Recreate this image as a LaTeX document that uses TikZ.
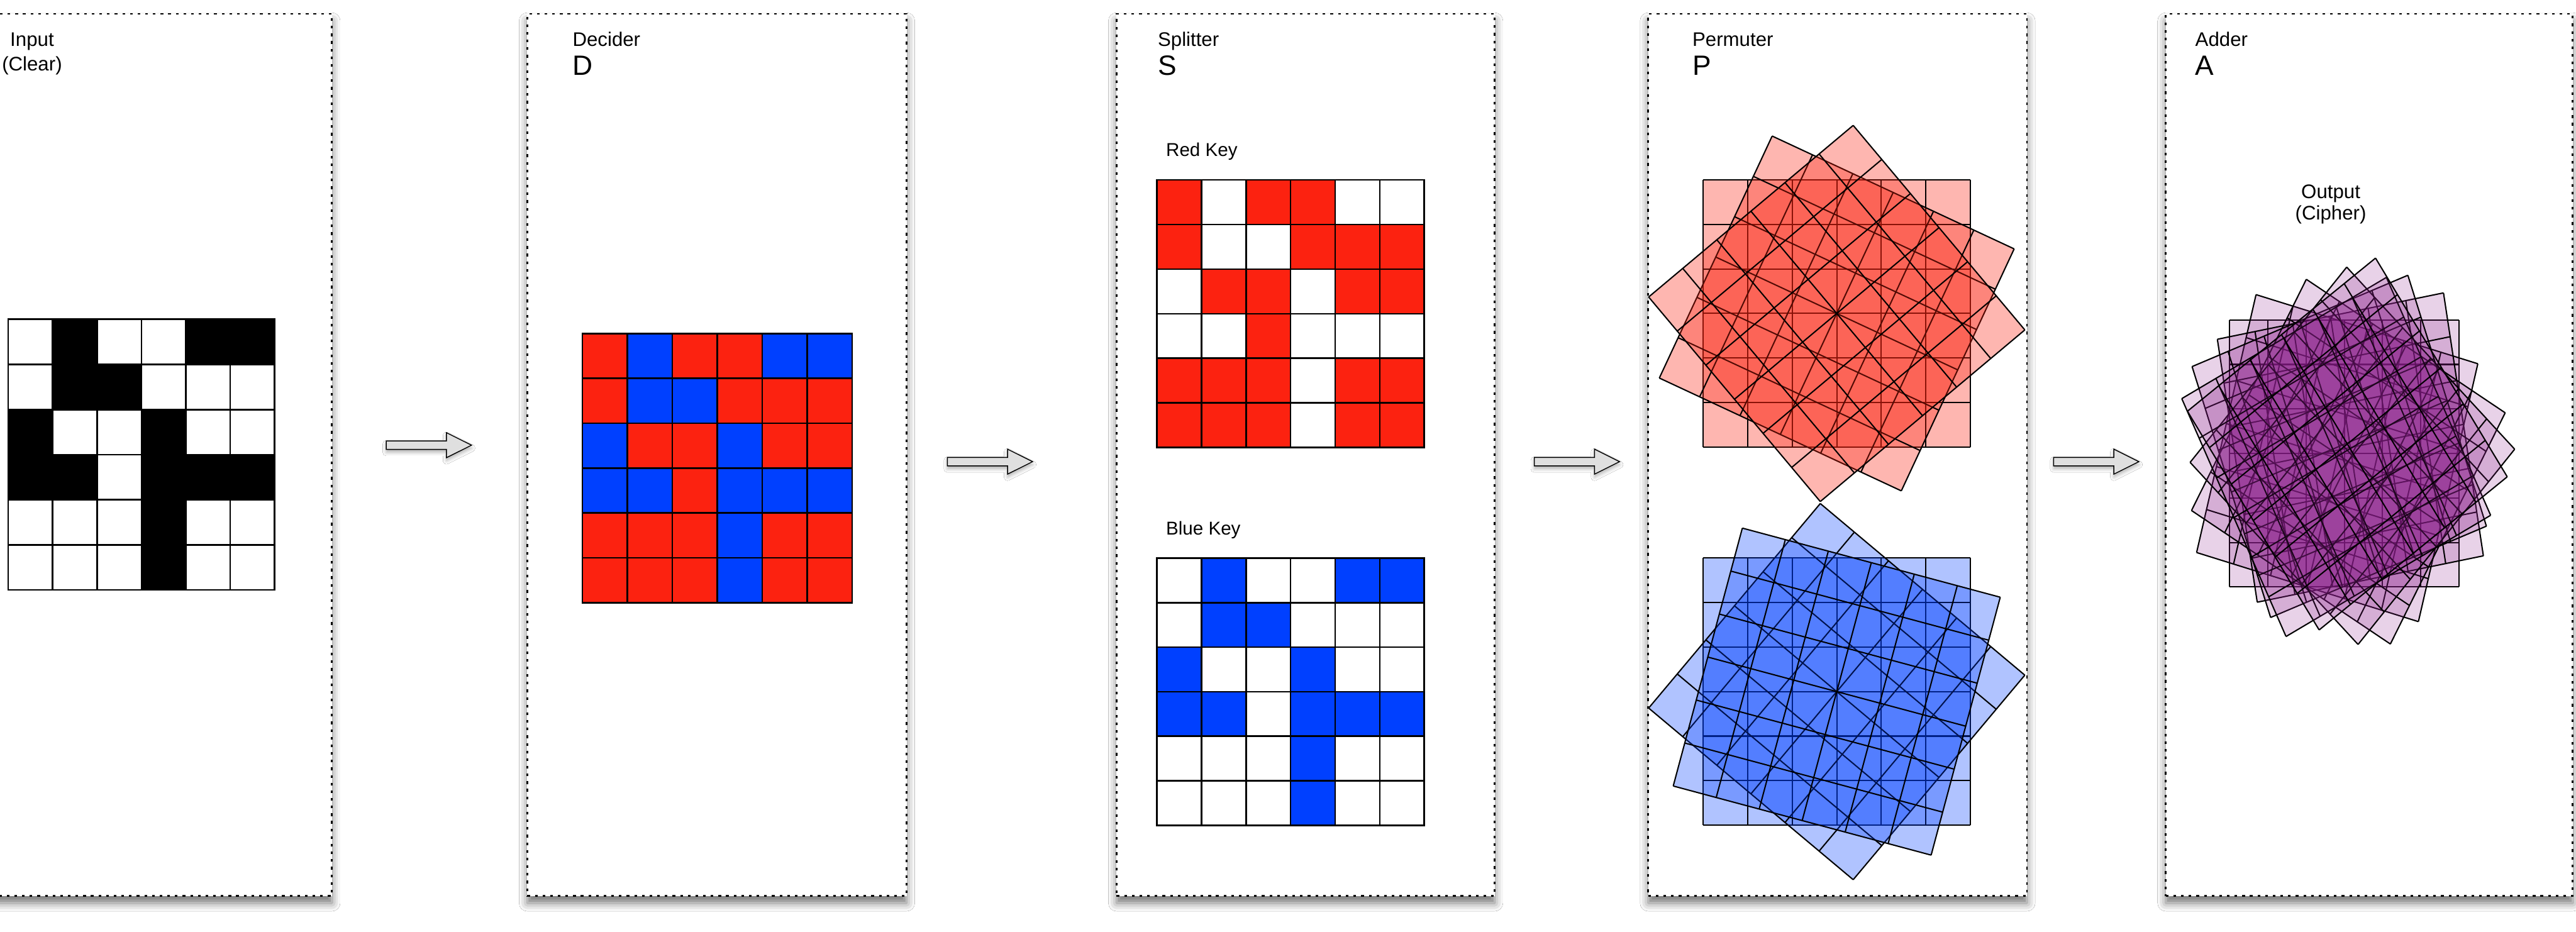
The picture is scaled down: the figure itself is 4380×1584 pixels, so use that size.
\documentclass[tikz,border=0pt]{standalone}
\usepackage{fontspec}
\setmainfont{Liberation Sans}
\usetikzlibrary{shapes.arrows,shadows.blur}
\definecolor{kred}{RGB}{252,34,16}
\definecolor{kblue}{RGB}{0,64,255}
\definecolor{kpurp}{RGB}{140,30,140}
\tikzset{
  panel/.style={rectangle, draw=black, line width=0.3mm, dash pattern=on 0.45mm off 0.85mm,
    fill=white, inner sep=0pt, anchor=north west, minimum height=150mm,
    blur shadow={shadow xshift=0mm, shadow yshift=-1.2mm, shadow blur radius=1.4mm, shadow opacity=55}},
  lbl/.style={font=\fontsize{9.5}{11}\selectfont, inner sep=0pt, anchor=base west},
  keylbl/.style={font=\fontsize{9}{11}\selectfont, inner sep=0pt, anchor=base west},
  big/.style={font=\fontsize{13.5}{16}\selectfont, inner sep=0pt, anchor=base west},
  cellline/.style={draw=black, line width=0.28mm},
  rline/.style={draw=black, line width=0.22mm},
  flow/.style={single arrow, draw=black, line width=0.15mm, fill=gray!25,
    inner sep=0.65mm, single arrow head extend=1.4mm, single arrow tip angle=53,
    minimum height=14.5mm,
    blur shadow={shadow xshift=0mm, shadow yshift=-0.5mm, shadow blur radius=0.6mm, shadow opacity=30}}
}
% #1 x0, #2 y0, #3 cell w, #4 cell h, #5 colour for 1, #6 colour for 0, #7 rows
\newcommand\cellgrid[7]{%
  \foreach \row [count=\r from 0] in {#7} {
    \foreach \v [count=\c from 0] in \row {
      \ifnum\v=1 \def\fc{#5}\else\def\fc{#6}\fi
      \path[cellline, fill=\fc] ({#1+\c*#3},{#2+\r*#4}) rectangle ++(#3,#4);
    }
  }%
}
% #1 cx, #2 cy, #3 angle, #4 colour, #5 opacity
\newcommand\rotgrid[5]{%
  \begin{scope}[shift={(#1,#2)}, rotate=#3]
    \fill[#4, fill opacity=#5] (-227,-227) rectangle (227,227);
    \foreach \k in {-3,...,3} {
      \draw[rline] ({\k*75.667},-227) -- ({\k*75.667},227);
      \draw[rline] (-227,{\k*75.667}) -- (227,{\k*75.667});
    }
  \end{scope}%
}
\begin{document}
\begin{tikzpicture}[x=0.1mm,y=-0.1mm]
\clip (0,0) rectangle (4380,1584);
\fill[white] (0,0) rectangle (4380,1584);

% panels
\node[panel, minimum width=64.4mm] (p1) at (-81,22) {};
\node[panel, minimum width=64.5mm] (p2) at (895,22) {};
\node[panel, minimum width=64.3mm] (p3) at (1897,22) {};
\node[panel, minimum width=64.4mm] (p4) at (2801,22) {};
\node[panel, minimum width=69.2mm] (p5) at (3681,22) {};

% titles
\node[lbl, anchor=base] (t1a) at (54.5,79) {Input};
\node[lbl, anchor=base] (t1b) at (54.5,120) {(Clear)};
\node[lbl] (t2) at (973,79) {Decider};
\node[big] (t2b) at (973,128) {D};
\node[lbl] (t3) at (1968,79) {Splitter};
\node[big] (t3b) at (1968,128) {S};
\node[lbl] (t4) at (2877,79) {Permuter};
\node[big] (t4b) at (2877,128) {P};
\node[lbl] (t5) at (3732,79) {Adder};
\node[big] (t5b) at (3732,128) {A};
\node[keylbl] (rk) at (1982,266) {Red Key};
\node[keylbl] (bk) at (1982,909) {Blue Key};
\node[lbl, anchor=base] (o1) at (3963,337) {Output};
\node[lbl, anchor=base] (o2) at (3963,374) {(Cipher)};

% input grid
\cellgrid{14}{543}{75.5}{76.7}{black}{white}{{0,1,0,0,1,1},{0,1,1,0,0,0},{1,0,0,1,0,0},{1,1,0,1,1,1},{0,0,0,1,0,0},{0,0,0,1,0,0}}
% decider grid
\cellgrid{990}{567}{76.5}{76.3}{kred}{kblue}{{1,0,1,1,0,0},{1,0,0,1,1,1},{0,1,1,0,1,1},{0,0,1,0,0,0},{1,1,1,0,1,1},{1,1,1,0,1,1}}
% red key
\cellgrid{1967}{306}{75.8}{75.8}{kred}{white}{{1,0,1,1,0,0},{1,0,0,1,1,1},{0,1,1,0,1,1},{0,0,1,0,0,0},{1,1,1,0,1,1},{1,1,1,0,1,1}}
% blue key
\cellgrid{1967}{949}{75.8}{75.7}{kblue}{white}{{0,1,0,0,1,1},{0,1,1,0,0,0},{1,0,0,1,0,0},{1,1,0,1,1,1},{0,0,0,1,0,0},{0,0,0,1,0,0}}

% permuter, red
\foreach \a in {0,-25,40} {\rotgrid{3123}{533}{\a}{kred}{0.33}}
% permuter, blue
\foreach \a in {0,-40,-15} {\rotgrid{3123}{1176}{\a}{kblue}{0.31}}
% adder, purple (copies slightly offset, squeezed horizontally)
\begin{scope}[shift={(3986,771)}, xscale=0.86]
\foreach \a/\dx/\dy in {0/0/0,-15/-14/8,10/12/-10,-30/8/14,20/-10/-12,-43/16/4,27/-16/6,35/6/-16} {
  \rotgrid{\dx}{\dy}{\a}{kpurp}{0.2}}
\end{scope}

% arrows
\node[flow] (a1) at (722,757) {};
\node[flow] (a2) at (1676,785) {};
\node[flow] (a3) at (2674,785) {};
\node[flow] (a4) at (3557,785) {};
\end{tikzpicture}
\end{document}
